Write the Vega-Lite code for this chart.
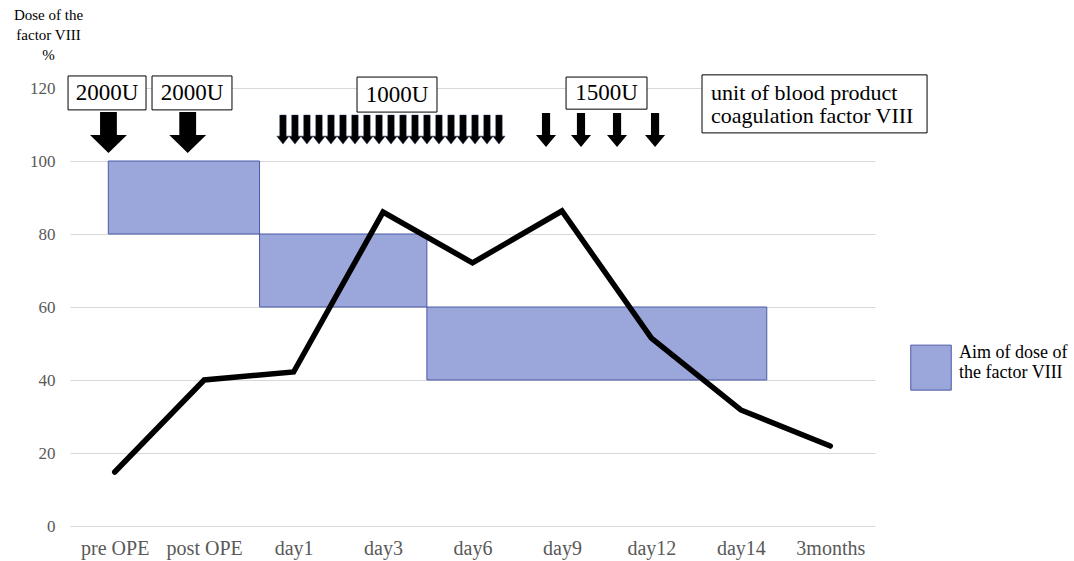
{
  "$schema": "https://vega.github.io/schema/vega-lite/v6.json",
  "autosize": "none",
  "width": 805,
  "height": 438,
  "padding": {"left": 70, "top": 88, "right": 199, "bottom": 35},
  "background": "white",
  "config": {
    "view": {"stroke": null},
    "font": "Liberation Serif",
    "text": {"font": "Liberation Serif"}
  },
  "datasets": {
    "level": [
      {"stage": "pre OPE", "value": 14.8},
      {"stage": "post OPE", "value": 40},
      {"stage": "day1", "value": 42.2},
      {"stage": "day3", "value": 86},
      {"stage": "day6", "value": 72.1},
      {"stage": "day9", "value": 86.3},
      {"stage": "day12", "value": 51.5},
      {"stage": "day14", "value": 31.8},
      {"stage": "3months", "value": 21.9}
    ],
    "aim": [
      {"x1": -0.072, "x2": 1.619, "lo": 80, "hi": 100, "series": "Aim of dose of the factor VIII"},
      {"x1": 1.619, "x2": 3.49, "lo": 60, "hi": 80, "series": "Aim of dose of the factor VIII"},
      {"x1": 3.49, "x2": 7.29, "lo": 40, "hi": 60, "series": "Aim of dose of the factor VIII"}
    ],
    "bigArrows": [
      {"pos": -0.07, "y": 107.8},
      {"pos": 0.816, "y": 107.8}
    ],
    "smallArrows": [
      {"pos": 1.881, "y": 108.6}, {"pos": 2.015, "y": 108.6}, {"pos": 2.149, "y": 108.6},
      {"pos": 2.284, "y": 108.6}, {"pos": 2.418, "y": 108.6}, {"pos": 2.552, "y": 108.6},
      {"pos": 2.686, "y": 108.6}, {"pos": 2.82, "y": 108.6}, {"pos": 2.955, "y": 108.6},
      {"pos": 3.089, "y": 108.6}, {"pos": 3.223, "y": 108.6}, {"pos": 3.357, "y": 108.6},
      {"pos": 3.491, "y": 108.6}, {"pos": 3.625, "y": 108.6}, {"pos": 3.76, "y": 108.6},
      {"pos": 3.894, "y": 108.6}, {"pos": 4.028, "y": 108.6}, {"pos": 4.162, "y": 108.6},
      {"pos": 4.296, "y": 108.6}
    ],
    "midArrows": [
      {"pos": 4.822, "y": 108.5},
      {"pos": 5.213, "y": 108.5},
      {"pos": 5.616, "y": 108.5},
      {"pos": 6.041, "y": 108.5}
    ],
    "boxes": [
      {"x1": -0.522, "x2": 0.35, "y1": 114.0, "y2": 123.3},
      {"x1": 0.417, "x2": 1.311, "y1": 114.0, "y2": 123.3},
      {"x1": 2.709, "x2": 3.603, "y1": 113.4, "y2": 123.0},
      {"x1": 5.046, "x2": 5.951, "y1": 114.2, "y2": 123.0},
      {"x1": 6.566, "x2": 9.082, "y1": 107.7, "y2": 123.6}
    ],
    "doseLabels": [
      {"pos": -0.086, "y": 118.6, "text": "2000U"},
      {"pos": 0.864, "y": 118.6, "text": "2000U"},
      {"pos": 3.156, "y": 118.2, "text": "1000U"},
      {"pos": 5.498, "y": 118.6, "text": "1500U"}
    ],
    "noteLabels": [
      {"pos": 6.667, "y": 118.6, "text": "unit of blood product"},
      {"pos": 6.667, "y": 112.3, "text": "coagulation factor VIII"}
    ]
  },
  "resolve": {"scale": {"x": "independent"}},
  "layer": [
    {
      "layer": [
        {
          "data": {"name": "aim"},
          "mark": {"type": "rect", "stroke": "#4b5aa6", "strokeWidth": 1},
          "encoding": {
            "x": {"field": "x1", "type": "quantitative", "scale": {"domain": [-0.5, 8.5], "nice": false, "zero": false}, "axis": null},
            "x2": {"field": "x2"},
            "y": {"field": "lo", "type": "quantitative", "scale": {"domain": [0, 120], "nice": false},
              "axis": {
                "values": [0, 20, 40, 60, 80, 100, 120],
                "domain": false, "ticks": false,
                "grid": true, "gridColor": "#d9d9d9", "gridWidth": 1,
                "labelFont": "Liberation Serif", "labelFontSize": 17, "labelColor": "#595959", "labelPadding": 15,
                "title": ["Dose of the", "factor VIII", "%"],
                "titleAngle": 0, "titleAlign": "center", "titleBaseline": "top",
                "titleX": -22, "titleY": -81,
                "titleFont": "Liberation Serif", "titleFontSize": 15, "titleFontWeight": "normal",
                "titleColor": "#000000", "titleLineHeight": 20
              }},
            "y2": {"field": "hi"},
            "fill": {"field": "series", "type": "nominal",
              "scale": {"range": ["#9ba6da"]},
              "legend": {
                "title": null, "orient": "none", "legendX": 838, "legendY": 242,
                "symbolType": "M-0.9,-0.35H0.9V1.65H-0.9Z", "symbolSize": 2025,
                "symbolStrokeColor": "#4b5aa6", "symbolStrokeWidth": 1, "symbolOpacity": 1,
                "labelFont": "Liberation Serif", "labelFontSize": 18, "labelColor": "#000000",
                "labelOffset": 5, "labelLimit": 300,
                "labelExpr": "['Aim of dose of', 'the factor VIII']"
              }}
          }
        },
        {
          "data": {"name": "boxes"},
          "mark": {"type": "rect", "fill": "white", "stroke": "#000000", "strokeWidth": 1},
          "encoding": {
            "x": {"field": "x1", "type": "quantitative", "scale": {"domain": [-0.5, 8.5], "nice": false, "zero": false}, "axis": null},
            "x2": {"field": "x2"},
            "y": {"field": "y1", "type": "quantitative"},
            "y2": {"field": "y2"}
          }
        },
        {
          "data": {"name": "doseLabels"},
          "mark": {"type": "text", "fontSize": 23, "font": "Liberation Serif", "color": "#000000", "align": "center", "baseline": "middle"},
          "encoding": {
            "x": {"field": "pos", "type": "quantitative", "scale": {"domain": [-0.5, 8.5], "nice": false, "zero": false}, "axis": null},
            "y": {"field": "y", "type": "quantitative"},
            "text": {"field": "text"}
          }
        },
        {
          "data": {"name": "noteLabels"},
          "mark": {"type": "text", "fontSize": 22, "font": "Liberation Serif", "color": "#000000", "align": "left", "baseline": "middle"},
          "encoding": {
            "x": {"field": "pos", "type": "quantitative", "scale": {"domain": [-0.5, 8.5], "nice": false, "zero": false}, "axis": null},
            "y": {"field": "y", "type": "quantitative"},
            "text": {"field": "text"}
          }
        },
        {
          "data": {"name": "bigArrows"},
          "mark": {"type": "point", "filled": true, "color": "#000000", "opacity": 1, "size": 1681,
            "shape": "M-0.41,-1L0.41,-1L0.41,0.12L0.9,0.12L0,1L-0.9,0.12L-0.41,0.12Z"},
          "encoding": {
            "x": {"field": "pos", "type": "quantitative", "scale": {"domain": [-0.5, 8.5], "nice": false, "zero": false}, "axis": null},
            "y": {"field": "y", "type": "quantitative"}
          }
        },
        {
          "data": {"name": "smallArrows"},
          "mark": {"type": "point", "filled": true, "color": "#000000", "opacity": 1, "size": 841,
            "shape": "M-0.22,-1L0.22,-1L0.22,0.45L0.42,0.45L0,1L-0.42,0.45L-0.22,0.45Z",
            "stroke": "#1f2a55", "strokeWidth": 0.5},
          "encoding": {
            "x": {"field": "pos", "type": "quantitative", "scale": {"domain": [-0.5, 8.5], "nice": false, "zero": false}, "axis": null},
            "y": {"field": "y", "type": "quantitative"}
          }
        },
        {
          "data": {"name": "midArrows"},
          "mark": {"type": "point", "filled": true, "color": "#000000", "opacity": 1, "size": 1156,
            "shape": "M-0.24,-1L0.24,-1L0.24,0.29L0.59,0.29L0,1L-0.59,0.29L-0.24,0.29Z"},
          "encoding": {
            "x": {"field": "pos", "type": "quantitative", "scale": {"domain": [-0.5, 8.5], "nice": false, "zero": false}, "axis": null},
            "y": {"field": "y", "type": "quantitative"}
          }
        }
      ]
    },
    {
      "data": {"name": "level"},
      "mark": {"type": "line", "color": "#000000", "strokeWidth": 5.5, "strokeCap": "round"},
      "encoding": {
        "x": {"field": "stage", "type": "ordinal", "sort": null, "scale": {"padding": 0.5},
          "axis": {"title": null, "domain": false, "ticks": false, "grid": false, "labelAngle": 0,
            "labelFont": "Liberation Serif", "labelFontSize": 20, "labelColor": "#595959", "labelPadding": 12}},
        "y": {"field": "value", "type": "quantitative"}
      }
    }
  ]
}
